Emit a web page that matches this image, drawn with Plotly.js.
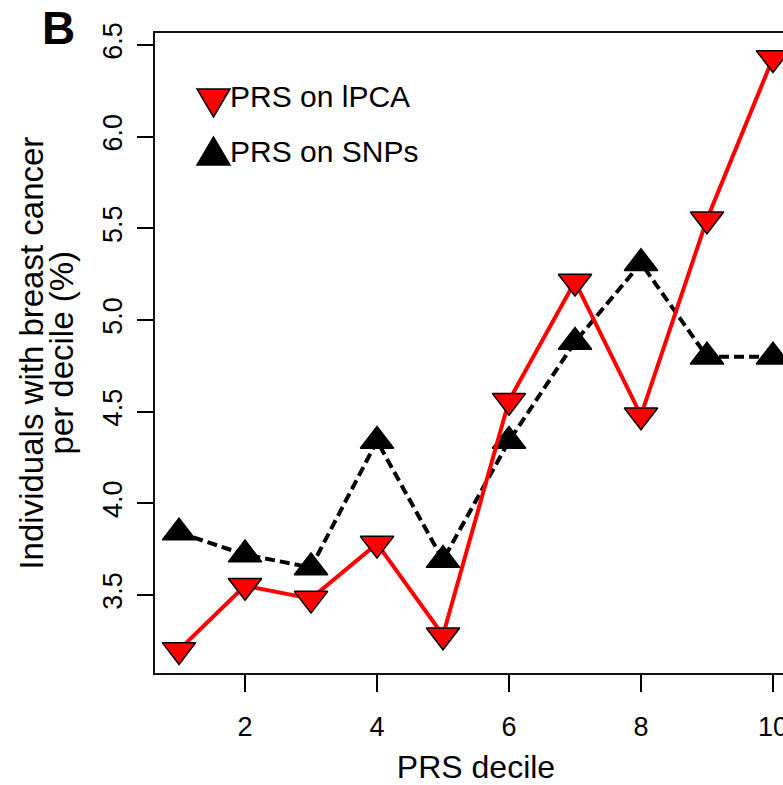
<!DOCTYPE html>
<html>
<head>
<meta charset="utf-8">
<script src="https://cdn.plot.ly/plotly-3.0.1.min.js"></script>
<style>
html, body { margin: 0; padding: 0; overflow: hidden; background: #fff; }
#chart { width: 810px; height: 785px; }
</style>
</head>
<body>
<div id="chart"></div>
<script>
// ---- data ----
const deciles = [1, 2, 3, 4, 5, 6, 7, 8, 9, 10];
const prsLPCA = [3.20, 3.55, 3.48, 3.78, 3.28, 4.56, 5.21, 4.48, 5.55, 6.43];
const prsSNPs = [3.84, 3.72, 3.65, 4.34, 3.69, 4.34, 4.88, 5.31, 4.80, 4.80];
const seriesNames = ["PRS on lPCA", "PRS on SNPs"];
const seriesColors = ["#ff0000", "#000000"];
const seriesSymbols = ["triangle-down", "triangle-up"];
const xTickVals = [2, 4, 6, 8, 10];
const yTickVals = [3.5, 4.0, 4.5, 5.0, 5.5, 6.0, 6.5];
const yTickText = ["3.5", "4.0", "4.5", "5.0", "5.5", "6.0", "6.5"];
const panelLabel = "B";
const xTitle = "PRS decile";
const yTitleLines = ["Individuals with breast cancer", "per decile (%)"];

const FONT = "Liberation Sans, Arial, Helvetica, sans-serif";

const traceSNP = {
  x: deciles, y: prsSNPs, name: seriesNames[1], type: "scatter", mode: "lines+markers",
  line: { color: seriesColors[1], width: 4, dash: "10px,5px" },
  marker: { symbol: seriesSymbols[1], size: 29, color: seriesColors[1], line: { color: "#000", width: 1.5 } },
  showlegend: false, cliponaxis: false
};
const traceLPCA = {
  x: deciles, y: prsLPCA, name: seriesNames[0], type: "scatter", mode: "lines+markers",
  line: { color: seriesColors[0], width: 4 },
  marker: { symbol: seriesSymbols[0], size: 29, color: seriesColors[0], line: { color: "#000", width: 1.5 } },
  showlegend: false, cliponaxis: false
};

// manual legend (R-style: symbol only, large)
const L = 155, T = 33, W = 642, H = 640;
const px2x = p => (p - L) / W;
const py2y = p => (T + H - p) / H;
const LEG_FONT = 30;
const legendRows = [{ sym: 103, base: 107 }, { sym: 151, base: 162 }];
const triDown = "M-16.5,14 L16.5,14 L0,-14 Z";
const triUp = "M-16.5,-14 L16.5,-14 L0,14 Z";
const shapes = [];
const annotations = [];
seriesNames.forEach((nm, i) => {
  shapes.push({
    type: "path", xref: "paper", yref: "paper", xsizemode: "pixel", ysizemode: "pixel",
    xanchor: px2x(213.5), yanchor: py2y(legendRows[i].sym),
    path: i === 0 ? triDown : triUp,
    fillcolor: seriesColors[i], line: { color: "#000", width: 1.5 }
  });
  annotations.push({
    xref: "paper", yref: "paper", x: px2x(229), y: py2y(legendRows[i].base - 0.347 * LEG_FONT),
    xanchor: "left", yanchor: "middle", showarrow: false, text: nm, borderpad: 0,
    font: { family: FONT, size: LEG_FONT, color: "#000" }
  });
});
// y-axis title (two lines, R mtext style)
const YT_FONT = 33;
const yTitleBase = [42, 72];
yTitleLines.forEach((t, i) => {
  annotations.push({
    xref: "paper", yref: "paper", x: px2x(yTitleBase[i] - 0.347 * YT_FONT), y: py2y(353),
    xanchor: "center", yanchor: "middle", textangle: -90, showarrow: false, borderpad: 0,
    text: t, font: { family: FONT, size: YT_FONT, color: "#000" }
  });
});
annotations.push({
  xref: "paper", yref: "paper", x: px2x(58), y: py2y(28), xanchor: "center", yanchor: "middle",
  showarrow: false, text: "<b>" + panelLabel + "</b>", font: { family: FONT, size: 46, color: "#000" }
});

const layout = {
  width: 810, height: 785,
  margin: { l: L, t: T, r: 810 - L - W, b: 785 - T - H },
  paper_bgcolor: "#fff", plot_bgcolor: "#fff",
  font: { family: FONT, color: "#000" },
  showlegend: false,
  xaxis: {
    range: [0.636, 10.364], tickvals: xTickVals, ticktext: xTickVals.map(String),
    ticks: "outside", ticklen: 17, tickwidth: 2, tickcolor: "#000",
    showline: true, mirror: true, linecolor: "#111", linewidth: 2,
    showgrid: false, zeroline: false, ticklabelstandoff: 12,
    tickfont: { family: FONT, size: 27, color: "#000" },
    title: { text: xTitle, font: { family: FONT, size: 32, color: "#000" }, standoff: 16 },
    automargin: false
  },
  yaxis: {
    range: [3.074, 6.566], tickvals: yTickVals, ticktext: yTickText, tickangle: -90,
    ticks: "outside", ticklen: 16, tickwidth: 2, tickcolor: "#000",
    showline: true, mirror: true, linecolor: "#111", linewidth: 2,
    showgrid: false, zeroline: false, ticklabelstandoff: 4,
    tickfont: { family: FONT, size: 27, color: "#000" },
    automargin: false
  },
  shapes: shapes,
  annotations: annotations
};

Plotly.newPlot("chart", [traceSNP, traceLPCA], layout, { displayModeBar: false, staticPlot: true });
</script>
</body>
</html>
